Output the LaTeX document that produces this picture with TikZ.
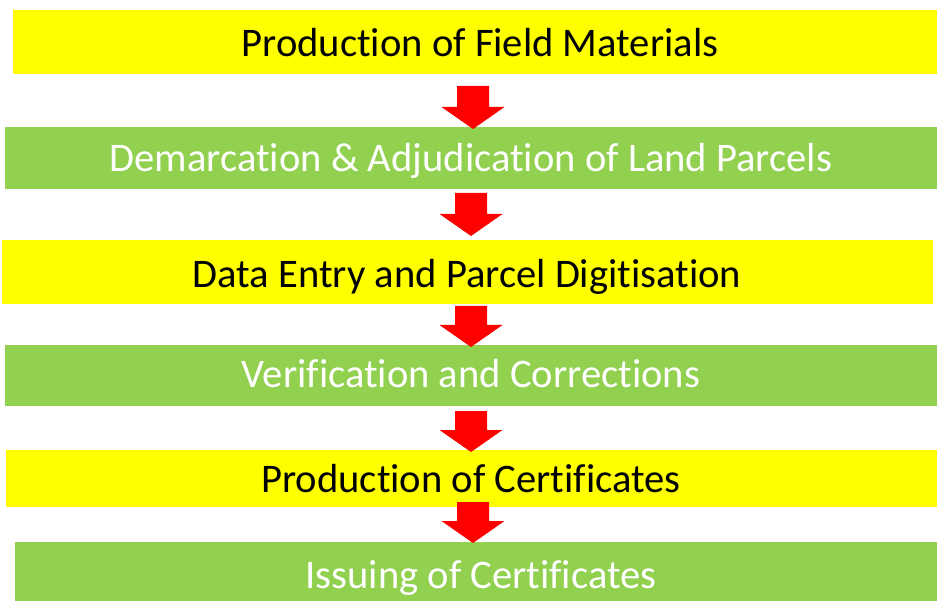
\documentclass[tikz,border=0pt]{standalone}
\usepackage{fontspec}
\setmainfont[Ligatures=NoCommon]{Carlito}
\definecolor{boxyellow}{HTML}{FFFF00}
\definecolor{boxgreen}{HTML}{92D050}
\definecolor{arrowred}{HTML}{FF0000}
\newcommand\blkarrow[4]{% name, x center, top, tip
  \fill[arrowred] (#2-16,-#3) -- (#2+16,-#3) -- (#2+16,-#4+22) -- (#2+31.5,-#4+22)
     -- (#2,-#4) coordinate (#1) -- (#2-31.5,-#4+22) -- (#2-16,-#4+22) -- cycle;}
\begin{document}
\begin{tikzpicture}[x=1pt,y=1pt,
  ybox/.style={fill=boxyellow,draw=none},
  gbox/.style={fill=boxgreen,draw=none},
  dtext/.style={anchor=base,inner sep=0pt,font=\fontsize{40.6}{42}\selectfont,text=black},
  ltext/.style={anchor=base,inner sep=0pt,font=\fontsize{40.6}{42}\selectfont,text=white}]
\useasboundingbox[fill=white] (0,0) rectangle (937,-601);
% boxes
\path[ybox] (13,-10) rectangle (937,-74) coordinate (b1);
\path[gbox] (5,-127) rectangle (937,-189) coordinate (b2);
\path[ybox] (2,-240) rectangle (933,-304) coordinate (b3);
\path[gbox] (5,-345) rectangle (937,-406) coordinate (b4);
\path[ybox] (6,-450) rectangle (937,-507) coordinate (b5);
\path[gbox] (15,-542) rectangle (937,-601) coordinate (b6);
% texts
\node[dtext] (t1) at (480,-57) {Production of Field Materials};
\node[ltext] (t2) at (471,-172) {Demarcation \& Adjudication of Land Parcels};
\node[dtext] (t3) at (467,-288) {Data Entry and Parcel Digitisation};
\node[ltext] (t4) at (471,-388) {Verification and Corrections};
\node[dtext] (t5) at (471,-492) {Production of Certificates};
\node[ltext] (t6) at (481,-588) {Issuing of Certificates};
% arrows
\blkarrow{a1}{473}{86}{129}
\blkarrow{a2}{471}{193}{236}
\blkarrow{a3}{471}{306}{347}
\blkarrow{a4}{471}{411}{452}
\blkarrow{a5}{473}{502}{543}
\end{tikzpicture}
\end{document}
